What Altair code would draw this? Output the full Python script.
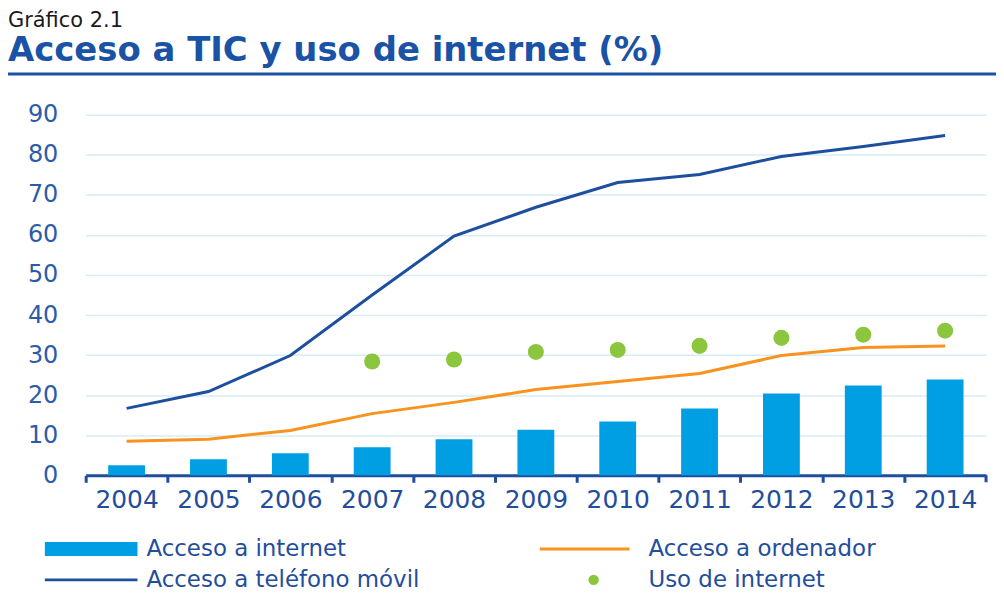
import altair as alt
import pandas as pd

years = [2004, 2005, 2006, 2007, 2008, 2009, 2010, 2011, 2012, 2013, 2014]
acceso_internet = [2.5, 4.0, 5.5, 7.0, 9.0, 11.4, 13.4, 16.7, 20.4, 22.4, 23.9]
acceso_movil = [16.7, 20.9, 29.9, 45.0, 59.7, 66.9, 73.1, 75.1, 79.6, 82.1, 84.8]
acceso_ordenador = [8.5, 9.0, 11.2, 15.4, 18.2, 21.4, 23.4, 25.4, 29.9, 31.9, 32.3]
uso_years = [2007, 2008, 2009, 2010, 2011, 2012, 2013, 2014]
uso_internet = [28.4, 28.9, 30.8, 31.3, 32.3, 34.3, 35.1, 36.1]
y_ticks = [0, 10, 20, 30, 40, 50, 60, 70, 80, 90]

names = ["Acceso a internet", "Acceso a ordenador",
         "Acceso a teléfono móvil", "Uso de internet"]

C_BAR = "#009fe3"
C_MOV = "#1d4f9e"
C_ORD = "#f7931e"
C_USO = "#8cc63f"
C_AX = "#1f4e9c"
C_GRID = "#d6edf9"
FONT = "DejaVu Sans"

W, H = 904, 362
STEP = W / len(years)

df_bar = pd.DataFrame({"year": years, "value": acceso_internet})
df_lines = pd.DataFrame({"year": years, "movil": acceso_movil, "ordenador": acceso_ordenador})
df_uso = pd.DataFrame({"year": uso_years, "value": uso_internet})

xenc = alt.X("year:O", title=None,
             scale=alt.Scale(paddingInner=0.55, paddingOuter=0.275),
             axis=alt.Axis(labelAngle=0, tickOffset=-STEP / 2, labelOffset=STEP / 2))
yscale = alt.Scale(domain=[0, 90], nice=False)
yaxis = alt.Axis(values=y_ticks, title=None)

bars = alt.Chart(df_bar).mark_bar(color=C_BAR).encode(
    x=xenc, y=alt.Y("value:Q", scale=yscale, axis=yaxis))

line_mov = alt.Chart(df_lines).mark_line(color=C_MOV, strokeWidth=3).encode(
    x=xenc, y=alt.Y("movil:Q", scale=yscale, axis=yaxis))
line_ord = alt.Chart(df_lines).mark_line(color=C_ORD, strokeWidth=3).encode(
    x=xenc, y=alt.Y("ordenador:Q", scale=yscale, axis=yaxis))
pts = alt.Chart(df_uso).mark_circle(color=C_USO, opacity=1, size=260).encode(
    x=xenc, y=alt.Y("value:Q", scale=yscale, axis=yaxis))

one = pd.DataFrame({"k": [0]})
end_tick = alt.Chart(one).mark_rule(color=C_AX, strokeWidth=3).encode(
    x=alt.value(W), y=alt.value(H), y2=alt.value(H + 7))
title_rule = alt.Chart(one).mark_rule(color="#1a52a5", strokeWidth=3).encode(
    x=alt.value(-78), x2=alt.value(W + 14), y=alt.value(-41))

# legend (manual, two columns)
R1, R2 = 436, 467
COL1, COL2 = -41, 464
leg = []
leg.append(alt.Chart(one).mark_rect(color=C_BAR).encode(
    x=alt.value(COL1), x2=alt.value(COL1 + 93), y=alt.value(R1 - 7), y2=alt.value(R1 + 7)))
leg.append(alt.Chart(one).mark_rule(color=C_ORD, strokeWidth=3).encode(
    x=alt.value(COL2 - 8), x2=alt.value(COL2 + 82), y=alt.value(R1)))
leg.append(alt.Chart(one).mark_rule(color=C_MOV, strokeWidth=3).encode(
    x=alt.value(COL1), x2=alt.value(COL1 + 93), y=alt.value(R2)))
leg.append(alt.Chart(one).mark_circle(color=C_USO, opacity=1, size=110).encode(
    x=alt.value(COL2 + 46), y=alt.value(R2)))
text_pos = [(COL1 + 102, R1), (COL2 + 101, R1), (COL1 + 102, R2), (COL2 + 101, R2)]
for name, (tx, ty) in zip(names, text_pos):
    leg.append(alt.Chart(pd.DataFrame({"label": [name]})).mark_text(
        align="left", baseline="middle", font=FONT, fontSize=23, color=C_AX).encode(
        x=alt.value(tx), y=alt.value(ty), text="label:N"))

chart = alt.layer(bars, line_ord, line_mov, pts, end_tick, title_rule, *leg).properties(
    width=W, height=H,
    padding={"left": 78, "top": 106, "right": 10, "bottom": 118},
    autosize=alt.AutoSizeParams(type="none"),
    background="white",
    title=alt.TitleParams(
        text="Gráfico 2.1", subtitle="Acceso a TIC y uso de internet (%)",
        anchor="start", frame="group", dx=-78, offset=4,
        font=FONT, fontSize=21, fontWeight="normal", color="#1a1a1a",
        subtitleFont=FONT, subtitleFontSize=34, subtitleFontWeight="bold",
        subtitleColor="#1a52a5", subtitlePadding=4),
).configure_view(stroke=None).configure_axisY(
    grid=True, gridColor=C_GRID, gridWidth=1.5, domain=False, ticks=False,
    labelFont=FONT, labelFontSize=24, labelColor="#2c5ca8", labelPadding=28,
).configure_axisX(
    grid=False, domain=True, domainColor=C_AX, domainWidth=3,
    ticks=True, tickColor=C_AX, tickWidth=3, tickSize=7,
    labelFont=FONT, labelFontSize=25, labelColor=C_AX, labelPadding=5,
)

chart.save("out.html", embed_options={"renderer": "svg", "actions": False})
